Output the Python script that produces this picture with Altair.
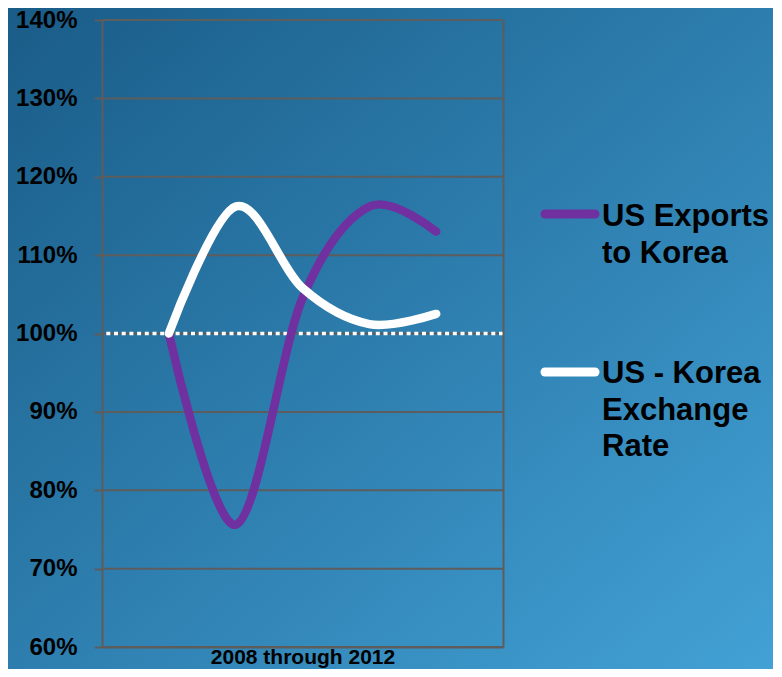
import altair as alt
import pandas as pd

# ---- data ----
years = [2008, 2009, 2010, 2011, 2012]
exports_korea = [100, 75.6, 104.5, 116.2, 113.0]
exchange_rate = [100, 116.2, 105.8, 101.2, 102.5]
series_names = ["US Exports to Korea", "US - Korea Exchange Rate"]
y_ticks = [60, 70, 80, 90, 100, 110, 120, 130, 140]
baseline_value = [100]

FONT = "Liberation Sans"
GRID = "#5d5d5d"
PURPLE = "#7030A0"

df = pd.DataFrame({
    "year": years * 2,
    "value": exports_korea + exchange_rate,
    "series": [series_names[0]] * len(years) + [series_names[1]] * len(years),
})
grid_df = pd.DataFrame({"tick": y_ticks})
base_df = pd.DataFrame({"v": baseline_value})
one = pd.DataFrame({"k": [0]})

W, H = 401, 627
PAD = {"left": 94, "top": 12, "right": 270, "bottom": 22}

yscale = alt.Scale(domain=[60, 140], nice=False, zero=False)

bg = alt.Chart(one).mark_rect(
    fill=alt.LinearGradient(
        gradient="linear",
        stops=[
            alt.GradientStop(color="#1a5c88", offset=0),
            alt.GradientStop(color="#2d7eae", offset=0.5),
            alt.GradientStop(color="#43a1d5", offset=1),
        ],
        x1=0, y1=0, x2=1, y2=1,
    )
).encode(
    x=alt.value(-PAD["left"]), x2=alt.value(W + PAD["right"]),
    y=alt.value(-PAD["top"]), y2=alt.value(H + PAD["bottom"]),
)

grid = alt.Chart(grid_df).mark_rule(color=GRID, strokeWidth=2).encode(
    y=alt.Y("tick:Q", scale=yscale,
            axis=alt.Axis(orient="right", labels=False, ticks=False, grid=False,
                          domain=True, domainColor=GRID, domainWidth=2,
                          title=None, zindex=1))
)

dotted = alt.Chart(base_df).mark_rule(
    color="white", strokeWidth=3.5, strokeDash=[4, 3.7]
).encode(y=alt.Y("v:Q", scale=yscale, axis=None))

lines = alt.Chart(df).mark_line(
    interpolate="cardinal", strokeWidth=8.5, strokeCap="round", strokeJoin="round"
).encode(
    x=alt.X("year:Q", scale=alt.Scale(domain=[2007, 2013], nice=False, zero=False),
            axis=alt.Axis(labels=False, ticks=False, grid=False, domain=True,
                          domainColor=GRID, domainWidth=2,
                          title="2008 through 2012", titleFont=FONT,
                          titleFontSize=21, titleFontWeight="bold",
                          titleColor="#000000", titlePadding=16,
                          titleBaseline="alphabetic", zindex=1)),
    y=alt.Y("value:Q", scale=yscale,
            axis=alt.Axis(orient="left", values=y_ticks,
                          labelExpr="datum.value + '%'",
                          labelFont=FONT, labelFontSize=24,
                          labelFontWeight="bold", labelColor="#000000",
                          labelPadding=17, tickSize=8, tickColor=GRID,
                          tickWidth=2, domainColor=GRID, domainWidth=2,
                          grid=False, title=None, zindex=1)),
    color=alt.Color("series:N", scale=alt.Scale(domain=series_names,
                                                range=[PURPLE, "white"]),
                    legend=None),
    order=alt.Order("year:Q"),
)

# custom legend
leg_purple = alt.Chart(one).mark_rule(color=PURPLE, strokeWidth=9, strokeCap="round").encode(
    x=alt.value(443), x2=alt.value(493), y=alt.value(194))
leg_white = alt.Chart(one).mark_rule(color="white", strokeWidth=9, strokeCap="round").encode(
    x=alt.value(443), x2=alt.value(493), y=alt.value(352))
txt_style = dict(font=FONT, fontSize=31, fontWeight="bold", color="#000000",
                 align="left", baseline="alphabetic", lineHeight=36.5)
leg_t1 = alt.Chart(one).mark_text(text=["US Exports", "to Korea"], **txt_style).encode(
    x=alt.value(500), y=alt.value(206))
leg_t2 = alt.Chart(one).mark_text(text=["US - Korea", "Exchange", "Rate"], **txt_style).encode(
    x=alt.value(500), y=alt.value(363))

chart = alt.layer(
    bg, grid, dotted, lines, leg_purple, leg_white, leg_t1, leg_t2
).resolve_axis(y="independent").properties(
    width=W, height=H,
    padding=PAD,
    autosize=alt.AutoSizeParams(type="none"),
    background="#2b78a6",
).configure_view(stroke=None)

chart.save("out.html", embed_options={"renderer": "svg", "actions": False})
